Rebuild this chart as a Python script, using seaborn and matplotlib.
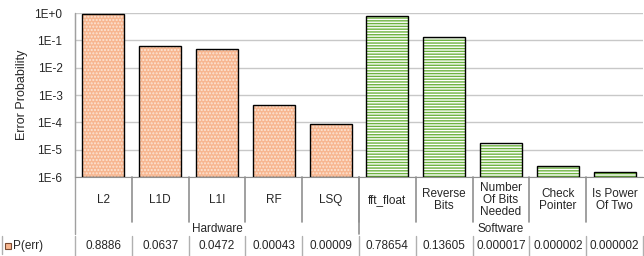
import matplotlib
matplotlib.use("Agg")
import matplotlib.pyplot as plt
from matplotlib.patches import Rectangle
from matplotlib.transforms import blended_transform_factory
import pandas as pd
import seaborn as sns

categories = ["L2", "L1D", "L1I", "RF", "LSQ", "fft_float", "Reverse\nBits",
              "Number\nOf Bits\nNeeded", "Check\nPointer", "Is Power\nOf Two"]
groups = ["Hardware"] * 5 + ["Software"] * 5
p_err = [0.8886, 0.0637, 0.0472, 0.00043, 0.00009,
         0.78654, 0.13605, 0.000017, 0.0000025, 0.0000015]
table_labels = ["0.8886", "0.0637", "0.0472", "0.00043", "0.00009",
                "0.78654", "0.13605", "0.000017", "0.000002", "0.000002"]
ytick_labels = ["1E-6", "1E-5", "1E-4", "1E-3", "1E-2", "1E-1", "1E+0"]

df = pd.DataFrame({"cat": categories, "group": groups, "p": p_err})

sns.set_style("white")
plt.rcParams["font.family"] = ["Liberation Sans", "DejaVu Sans"]
plt.rcParams["hatch.linewidth"] = 1.0
FS = 8.5

fig = plt.figure(figsize=(6.44, 2.56), dpi=100)
ax = fig.add_axes([75 / 644, 1 - 177 / 256, 568 / 644, 164 / 256])

sns.barplot(data=df, x="cat", y="p", hue="group", dodge=False, width=0.74,
            palette={"Hardware": "#F7B690", "Software": "white"},
            legend=False, ax=ax)
ax.set_yscale("log")
ymin = 1e-6
ax.set_ylim(ymin, 1)

styles = {"Hardware": ("#F7B690", "#FCE4D4", "....."),
          "Software": ("white", "#6DB33F", "------")}
for patch, g in zip(ax.patches[:len(categories)], groups):
    fc, hc, hatch = styles[g]
    top = patch.get_y() + patch.get_height()
    x0, w = patch.get_x(), patch.get_width()
    patch.set_visible(False)
    ax.add_patch(Rectangle((x0, ymin), w, top - ymin, facecolor=fc,
                           edgecolor=hc, hatch=hatch, linewidth=0, zorder=2))
    ax.add_patch(Rectangle((x0, ymin), w, top - ymin, fill=False,
                           edgecolor="black", linewidth=1.0, zorder=3))

ax.set_xlim(-0.5, len(categories) - 0.5)
ax.set_yticks([10.0 ** k for k in range(-6, 1)])
ax.set_yticklabels(ytick_labels, fontsize=FS)
ax.minorticks_off()
ax.yaxis.grid(True, color="#c8c8c8", linewidth=1)
ax.set_axisbelow(True)
ax.tick_params(axis="y", length=0, pad=9)
ax.set_xticks([])
ax.set_xlabel("")
ax.set_ylabel("Error Probability", fontsize=9, labelpad=5)
for s in ["top", "right"]:
    ax.spines[s].set_visible(False)
ax.spines["left"].set_color("#a0a0a0")
ax.spines["bottom"].set_color("#909090")

# data table under the axis
tr = blended_transform_factory(ax.transData, ax.transAxes)
lc = "#909090"
ax.plot([-0.5, -0.5], [1, -0.35], color="#a0a0a0", lw=1, transform=tr, clip_on=False)
for i in range(len(categories)):
    ax.text(i, -0.14, categories[i], ha="center", va="center", fontsize=FS,
            transform=tr, linespacing=1.05)
    ax.text(i, -0.42, table_labels[i], ha="center", va="center", fontsize=FS,
            transform=tr)
    if i > 0:
        ax.plot([i - 0.5, i - 0.5], [0, -0.275], color=lc, lw=1.2,
                transform=tr, clip_on=False)
for b in [-0.5 + k for k in range(len(categories) + 1)]:
    ax.plot([b, b], [-0.36, -0.48], color="#b0b0b0", lw=1, transform=tr, clip_on=False)
ax.plot([4.5, 4.5], [0, -0.35], color=lc, lw=1.2, transform=tr, clip_on=False)
ax.text(2, -0.315, "Hardware", ha="center", va="center", fontsize=FS, transform=tr)
ax.text(7, -0.315, "Software", ha="center", va="center", fontsize=FS, transform=tr)

# legend cell
fig.add_artist(plt.Line2D([2 / 644, 2 / 644], [1 - 236 / 256, 1 - 254 / 256],
                          color="#b0b0b0", lw=1))
fig.add_artist(Rectangle((5 / 644, 1 - 249 / 256), 6 / 644, 6 / 256,
                         facecolor="#F7B690", edgecolor="#7a4a30", lw=0.8))
fig.text(13 / 644, 1 - 246 / 256, "P(err)", ha="left", va="center", fontsize=FS)

fig.savefig("out.png", dpi=100)
